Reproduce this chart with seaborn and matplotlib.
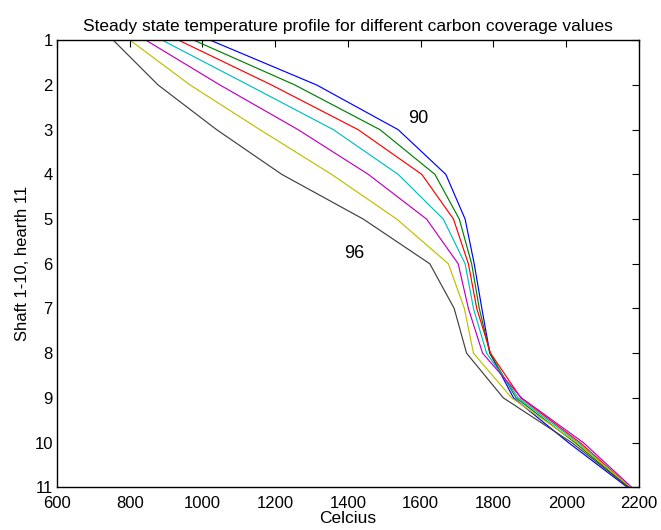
import numpy as np
import pandas as pd
import matplotlib
matplotlib.use("Agg")
import matplotlib.pyplot as plt
import seaborn as sns

levels = [1, 2, 3, 4, 5, 6, 7, 8, 9, 10, 11]
coverage = ["90", "91", "92", "93", "94", "95", "96"]
temp_90 = [1022, 1314, 1538, 1669, 1722, 1747, 1768, 1790, 1855, 2006, 2168]
temp_91 = [977, 1254, 1488, 1639, 1706, 1740, 1761, 1790, 1862, 2024, 2172]
temp_92 = [935, 1190, 1428, 1603, 1690, 1731, 1754, 1792, 1875, 2038, 2176]
temp_93 = [890, 1126, 1360, 1538, 1662, 1722, 1745, 1781, 1868, 2033, 2174]
temp_94 = [845, 1048, 1263, 1456, 1616, 1703, 1731, 1770, 1877, 2047, 2180]
temp_95 = [801, 966, 1158, 1355, 1534, 1676, 1720, 1745, 1850, 2029, 2176]
temp_96 = [755, 878, 1039, 1218, 1442, 1625, 1692, 1726, 1827, 2015, 2172]
series = [temp_90, temp_91, temp_92, temp_93, temp_94, temp_95, temp_96]
colors = [(0, 0, 1), (0, 0.5, 0), (1, 0, 0), (0, 0.75, 0.75),
          (0.75, 0, 0.75), (0.75, 0.75, 0), (0.25, 0.25, 0.25)]

rows = []
for c, vals in zip(coverage, series):
    for lv, t in zip(levels, vals):
        rows.append({"coverage": c, "level": lv, "temp": t})
df = pd.DataFrame(rows)

sns.set_style("white")
plt.rcParams['font.family'] = ['Liberation Sans', 'DejaVu Sans']
plt.rcParams['text.color'] = 'black'
plt.rcParams['axes.labelcolor'] = 'black'

fig = plt.figure(figsize=(6.61, 5.30), dpi=100)
ax = fig.add_axes([0.0862, 0.0806, 0.8805, 0.8434])
sns.lineplot(data=df, x="temp", y="level", hue="coverage", palette=colors,
             sort=False, estimator=None, linewidth=0.85, legend=False, ax=ax)

ax.set_xlim(600, 2200)
ax.set_ylim(11, 1)
ax.set_xticks(np.arange(600, 2201, 200))
ax.set_yticks(levels)
ax.tick_params(direction="in", top=True, right=True, length=5, width=0.8,
               labelsize=12, colors="black", pad=3)
ax.tick_params(axis="x", pad=6)
for s in ax.spines.values():
    s.set_visible(True)
    s.set_color("black")
    s.set_linewidth(1.0)
ax.set_xlabel("Celcius", fontsize=12.5, labelpad=0, color="black")
ax.set_ylabel("Shaft 1-10, hearth 11", fontsize=12, labelpad=3, color="black")
ax.set_title("Steady state temperature profile for different carbon coverage values",
             fontsize=12.5, pad=7, color="black")
ax.text(1592, 2.76, "90", fontsize=13, ha="center", va="center")
ax.text(1416, 5.76, "96", fontsize=13, ha="center", va="center")

fig.savefig("out.png", dpi=100)
